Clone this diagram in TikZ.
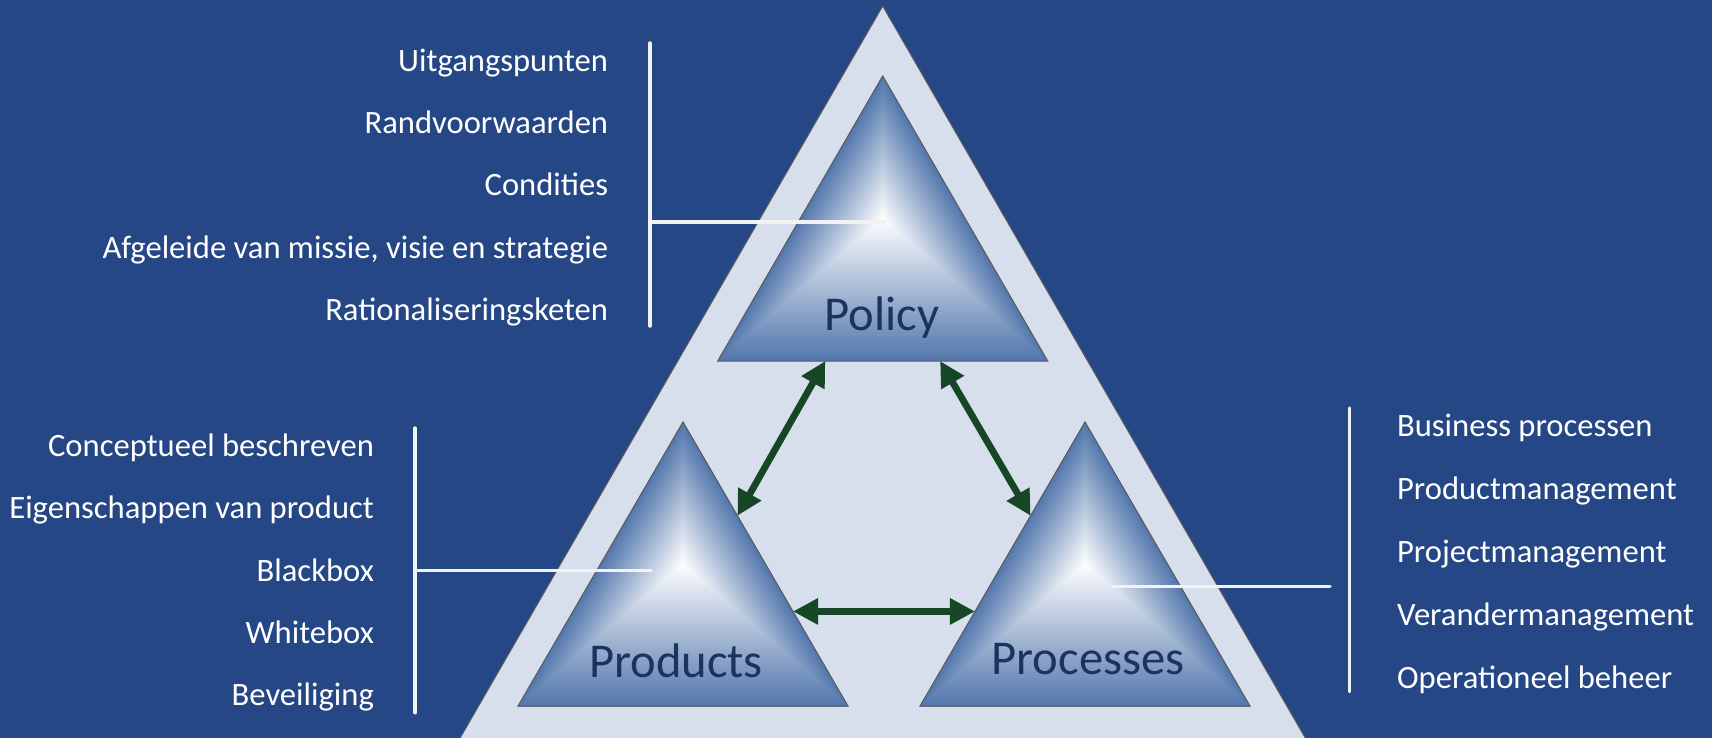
\documentclass[tikz,border=0pt]{standalone}
\usepackage{fontspec}
\setmainfont{Carlito}
\usetikzlibrary{arrows.meta,calc}

\definecolor{bgblue}{RGB}{38,71,133}
\definecolor{paleblue}{RGB}{214,223,235}
\definecolor{steelblue}{RGB}{84,120,174}
\definecolor{navytext}{RGB}{27,52,94}
\definecolor{darkgreen}{RGB}{22,70,38}

% path gradient: centre x, middle y
\newcommand{\gradtri}[2]{%
  \foreach \k in {40,39,...,1}{%
    \pgfmathsetmacro{\f}{\k/40}%
    \pgfmathsetmacro{\p}{100*\f}%
    \fill[steelblue!\p!white] (#1,{#2-142.5*\f}) -- ++({165*\f},{285*\f}) -- ++({-330*\f},0) -- cycle;
  }}

\begin{document}
\begin{tikzpicture}[x=0.5pt,y=-0.5pt, item/.style={text=white,font=\fontsize{16.3}{19}\selectfont,inner sep=0pt}, title/.style={text=navytext,font=\fontsize{24.3}{29}\selectfont,inner sep=0pt,anchor=base}, edge/.style={draw=black!65,line width=0.5pt,line join=miter}, bracket/.style={draw=white!95!black,line width=1.75pt,line cap=round}, link/.style={{Triangle[length=12.5pt,width=12.5pt]}-{Triangle[length=12.5pt,width=12.5pt]},draw=darkgreen,line width=3.4pt}]
\useasboundingbox[fill=bgblue] (0,0) rectangle (1712,738);
% outer triangle
\coordinate (top) at (882.7,6);
\coordinate (out-l) at (460.1,738);
\coordinate (out-r) at (1305.3,738);
\fill[paleblue] (top) -- (out-r) -- (out-l) -- cycle;
\draw[edge] (out-l) -- (top) -- (out-r);
% inner triangles
\coordinate (pol-t) at (882.7,76);
\coordinate (pol-l) at (717.7,361);
\coordinate (pol-r) at (1047.7,361);
\coordinate (prod-t) at (683,422);
\coordinate (prod-l) at (518,706);
\coordinate (prod-r) at (848,706);
\coordinate (proc-t) at (1085,422);
\coordinate (proc-l) at (920,706);
\coordinate (proc-r) at (1250,706);
\gradtri{882.7}{218.5}
\gradtri{683}{564}
\gradtri{1085}{564}
\draw[edge] (pol-t) -- (pol-r) -- (pol-l) -- cycle;
\draw[edge] (prod-t) -- (prod-r) -- (prod-l) -- cycle;
\draw[edge] (proc-t) -- (proc-r) -- (proc-l) -- cycle;
\node[title] (pol) at (882,330) {Policy};
\node[title] (prod) at (676,677) {Products};
\node[title] (proc) at (1088,674) {Processes};
% arrows
\draw[link] ($(pol-l)!0.326!(pol-r)$) -- ($(prod-t)!0.33!(prod-r)$);
\draw[link] ($(pol-l)!0.674!(pol-r)$) -- ($(proc-t)!0.33!(proc-l)$);
\draw[link] ($(prod-t)!0.667!(prod-r)$) -- ($(proc-t)!0.667!(proc-l)$);
% policy list
\node[item,anchor=base east] (u1) at (608.5,71.7) {Uitgangspunten};
\node[item,anchor=base east] (u2) at (608.5,133.8) {Randvoorwaarden};
\node[item,anchor=base east] (u3) at (608.5,195.9) {Condities};
\node[item,anchor=base east] (u4) at (608.5,258) {Afgeleide van missie, visie en strategie};
\node[item,anchor=base east] (u5) at (608.5,320.1) {Rationaliseringsketen};
\coordinate (pol-bt) at (650,43);
\coordinate (pol-bb) at (650,326);
\coordinate (pol-bm) at (650,222);
\coordinate (pol-tap) at (884,222);
\draw[bracket] (pol-bt) -- (pol-bb);
\draw[bracket] (pol-bm) -- (pol-tap);
% products list
\node[item,anchor=base east] (c1) at (374.3,456.7) {Conceptueel beschreven};
\node[item,anchor=base east] (c2) at (374.3,518.9) {Eigenschappen van product};
\node[item,anchor=base east] (c3) at (374.3,581.1) {Blackbox};
\node[item,anchor=base east] (c4) at (374.3,643.3) {Whitebox};
\node[item,anchor=base east] (c5) at (374.3,705.5) {Beveiliging};
\coordinate (prod-bt) at (415,428);
\coordinate (prod-bb) at (415,712.7);
\coordinate (prod-bm) at (415,570.5);
\coordinate (prod-tap) at (651.5,570.5);
\draw[bracket] (prod-bt) -- (prod-bb);
\draw[bracket] (prod-bm) -- (prod-tap);
% processes list
\node[item,anchor=base west] (b1) at (1396.7,436.7) {Business processen};
\node[item,anchor=base west] (b2) at (1396.7,499.6) {Productmanagement};
\node[item,anchor=base west] (b3) at (1396.7,562.5) {Projectmanagement};
\node[item,anchor=base west] (b4) at (1396.7,625.4) {Verandermanagement};
\node[item,anchor=base west] (b5) at (1396.7,688.3) {Operationeel beheer};
\coordinate (proc-bt) at (1349.5,408);
\coordinate (proc-bb) at (1349.5,691.7);
\coordinate (proc-tap) at (1112,586.7);
\coordinate (proc-end) at (1330,586.7);
\draw[bracket] (proc-bt) -- (proc-bb);
\draw[bracket] (proc-tap) -- (proc-end);
\end{tikzpicture}
\end{document}
